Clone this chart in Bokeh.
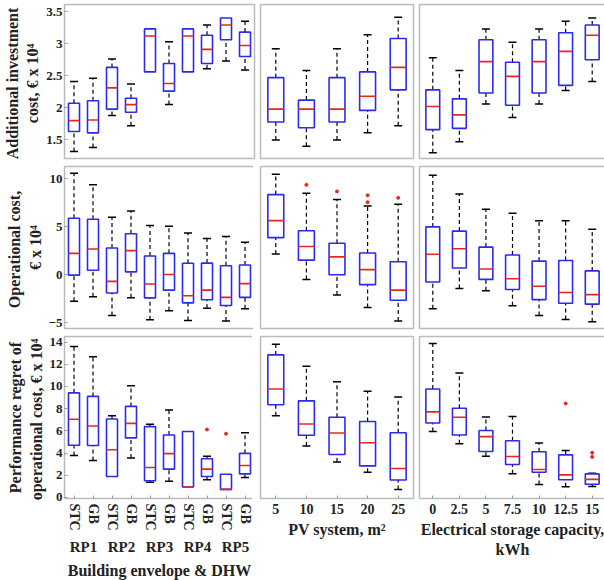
from bokeh.plotting import figure
from bokeh.layouts import gridplot
from bokeh.models import FactorRange, ColumnDataSource, Range1d, FixedTicker
from bokeh.transform import dodge
from bokeh.embed import file_html
from bokeh.resources import INLINE

N = None
rp_factors = [(g, s) for g in ["RP1", "RP2", "RP3", "RP4", "RP5"] for s in ["STC", "GB"]]
pv_factors = ["5", "10", "15", "20", "25"]
st_factors = ["0", "2.5", "5", "7.5", "10", "12.5", "15"]

# [low whisker, q1, median, q3, high whisker]
inv_rp = [[1.32, 1.63, 1.80, 2.07, 2.41], [1.38, 1.61, 1.81, 2.11, 2.46], [1.88, 1.98, 2.31, 2.63, 2.76],
          [1.72, 1.93, 2.05, 2.15, 2.37], [N, 2.56, 3.12, 3.23, N], [2.05, 2.26, 2.38, 2.69, 3.03],
          [N, 2.56, 3.12, 3.23, N], [2.61, 2.69, 2.91, 3.13, 3.29], [2.73, 3.06, 3.29, 3.40, N],
          [2.59, 2.80, 2.97, 3.18, 3.35]]
inv_pv = [[1.50, 1.78, 1.98, 2.47, 2.92], [1.40, 1.69, 1.98, 2.12, 2.58], [1.50, 1.78, 1.98, 2.47, 2.92],
          [1.61, 1.96, 2.18, 2.56, 3.14], [1.72, 2.28, 2.63, 3.08, 3.41]]
inv_st = [[1.30, 1.66, 2.02, 2.28, 2.78], [1.47, 1.68, 1.89, 2.14, 2.58], [2.06, 2.23, 2.72, 3.06, 3.23],
          [1.85, 2.04, 2.49, 2.71, 3.02], [2.06, 2.23, 2.72, 3.06, 3.23], [2.27, 2.35, 2.88, 3.17, 3.35],
          [2.41, 2.75, 3.13, 3.29, 3.40]]
op_rp = [[-2.76, -0.03, 2.24, 5.9, 10.6], [-2.3, 0.48, 2.7, 5.8, 9.4], [-4.25, -1.9, -0.68, 2.8, 6.0],
         [-2.4, 0.31, 2.52, 4.29, 6.67], [-4.7, -2.4, -0.95, 1.97, 5.14], [-3.74, -1.6, 0.03, 2.24, 5.07],
         [-4.76, -2.93, -2.18, 1.2, 4.35], [-3.5, -2.6, -1.6, 1.22, 3.78], [-4.83, -3.2, -2.35, 0.95, 4.0],
         [-3.54, -2.35, -0.92, 1.02, 3.4]]
op_pv = [[2.18, 3.88, 5.65, 8.37, 10.48], [-0.48, 1.53, 2.96, 4.59, 8.5], [-2.1, 0.0, 1.87, 3.3, 7.86],
         [-3.4, -1.02, 0.54, 2.28, 7.18], [-4.83, -2.65, -1.6, 1.36, 7.35]]
op_st = [[-3.54, -0.75, 2.14, 5.0, 10.4], [-1.43, 0.71, 2.72, 4.56, 8.44], [-1.67, -0.48, 0.61, 2.89, 6.84],
         [-3.23, -1.53, -0.41, 2.07, 6.43], [-4.25, -2.59, -1.19, 1.43, 5.65], [-4.66, -2.96, -1.84, 1.5, 5.65],
         [-4.9, -3.06, -2.07, 0.41, 4.76]]
op_pv_out_x = ["10", "15", "20", "20", "25"]
op_pv_out_y = [9.39, 8.7, 8.3, 7.58, 8.03]
pr_rp = [[3.77, 4.7, 7.04, 9.42, 13.6], [3.33, 4.67, 6.43, 9.1, 12.67], [N, 1.88, 4.3, 7.07, 7.35],
         [3.54, 5.36, 6.67, 8.2, 10.06], [1.36, 1.5, 2.7, 6.38, 6.6], [1.45, 2.55, 3.94, 5.62, 7.88],
         [N, 0.93, 0.93, 5.94, N], [1.59, 1.88, 2.55, 3.48, 3.71], [N, 0.72, 0.72, 2.09, N],
         [1.8, 2.12, 2.87, 3.97, 5.83]]
pr_rp_out_x = [("RP4", "GB"), ("RP5", "STC")]
pr_rp_out_y = [6.12, 5.74]
pr_pv = [[7.36, 8.35, 9.77, 12.84, 13.8], [4.64, 5.6, 6.61, 8.7, 11.83], [3.19, 3.86, 5.8, 7.22, 10.43],
         [2.26, 2.84, 4.93, 6.84, 9.57], [0.72, 1.57, 2.61, 5.83, 9.04]]
pr_st = [[5.94, 6.7, 7.71, 9.77, 13.86], [4.84, 5.62, 7.22, 8.03, 11.22], [3.71, 4.14, 5.48, 6.03, 7.25],
         [2.14, 2.96, 3.68, 5.1, 7.3], [1.16, 2.26, 2.52, 4.12, 4.9], [0.96, 1.59, 2.03, 3.83, 4.23],
         [0.99, 1.19, 1.62, 2.12, 2.17]]
pr_st_out_x = ["12.5", "15", "15"]
pr_st_out_y = [8.46, 4.03, 3.65]

FONT = "Liberation Serif"
BLUE = "#2b2bf0"
TXT = "#222222"


def panel(factors, data, yr, ticks, fw, fh, left, bottom, ylabel=None, xlabel=None, showx=False,
          out_x=None, out_y=None, bw=0.52, nested=False):
    xr = FactorRange(*factors, factor_padding=0, group_padding=0, range_padding=0.0)
    p = figure(x_range=xr, y_range=Range1d(*yr), frame_width=fw, frame_height=fh,
               output_backend="svg", toolbar_location=None, min_border_left=left,
               min_border_right=2, min_border_top=4, min_border_bottom=bottom)
    src = ColumnDataSource(dict(x=factors, lo=[float('nan') if d[0] is None else d[0] for d in data],
                                q1=[d[1] for d in data], med=[d[2] for d in data], q3=[d[3] for d in data],
                                hi=[float('nan') if d[4] is None else d[4] for d in data]))
    p.segment(x0="x", y0="q3", x1="x", y1="hi", source=src, line_color="black", line_dash="4 3", line_width=1.2)
    p.segment(x0="x", y0="lo", x1="x", y1="q1", source=src, line_color="black", line_dash="4 3", line_width=1.2)
    p.dash(x="x", y="hi", source=src, size=8, line_color="black", line_width=1.5)
    p.dash(x="x", y="lo", source=src, size=8, line_color="black", line_width=1.5)
    p.vbar(x="x", top="q3", bottom="q1", width=bw, source=src, fill_color=None, line_color=BLUE, line_width=1.6)
    p.segment(x0=dodge("x", -bw / 2, range=xr), y0="med", x1=dodge("x", bw / 2, range=xr), y1="med",
              source=src, line_color="#e8261e", line_width=1.6)
    if out_x:
        p.scatter(x=out_x, y=out_y, marker="circle", size=3, color="#e8261e")
    p.xgrid.visible = False
    p.ygrid.visible = False
    p.outline_line_color = "#bbbbbb"
    p.outline_line_width = 1.5
    for ax in (p.xaxis, p.yaxis):
        ax.axis_line_color = None
        ax.major_tick_in = 3
        ax.major_tick_out = 0
        ax.minor_tick_line_color = None
        ax.major_tick_line_color = "#999999"
        ax.major_label_text_font = FONT
        ax.major_label_text_font_style = "bold"
        ax.major_label_text_font_size = "14px"
        ax.major_label_text_color = TXT
        ax.axis_label_text_font = FONT
        ax.axis_label_text_font_style = "bold"
        ax.axis_label_text_font_size = "16px"
        ax.axis_label_text_color = TXT
    p.yaxis.ticker = FixedTicker(ticks=ticks)
    p.yaxis.major_label_standoff = 2
    if ylabel:
        p.yaxis.axis_label = ylabel
        p.yaxis.axis_label_standoff = 2
        p.yaxis.major_label_text_font_size = "13px"
    else:
        p.yaxis.visible = False
    if showx:
        p.xaxis.axis_label = xlabel
        p.xaxis.axis_label_standoff = 4
        if nested:
            p.xaxis.major_label_orientation = "vertical"
            p.xaxis.group_text_font = FONT
            p.xaxis.group_text_font_style = "bold"
            p.xaxis.group_text_font_size = "15px"
            p.xaxis.group_text_color = TXT
            p.xaxis.separator_line_alpha = 0
    else:
        p.xaxis.visible = False
    return p


FW = [190, 153, 186]
H = [154, 162, 162]
L = [50, 4, 4]
yr = [(1.21, 3.61), (-5.6, 11.3), (-0.1, 14.5)]
tk = [[1.5, 2, 2.5, 3, 3.5], [-5, 0, 5, 10], [0, 2, 4, 6, 8, 10, 12, 14]]
yl = ["Additional  investment\ncost,  € x 10⁴", "Operational  cost,\n€ x 10⁴",
      "Performance regret of\noperational cost,  € x 10⁴"]
rp = [inv_rp, op_rp, pr_rp]
pv = [inv_pv, op_pv, pr_pv]
st = [inv_st, op_st, pr_st]
rows = []
for i in range(3):
    last = i == 2
    bot = 68 if last else 4
    r = []
    r.append(panel(rp_factors, rp[i], yr[i], tk[i], FW[0], H[i], L[0], bot, ylabel=yl[i],
                   xlabel="Building envelope & DHW", showx=last, nested=True, bw=0.58,
                   out_x=pr_rp_out_x if last else None, out_y=pr_rp_out_y if last else None))
    r.append(panel(pv_factors, pv[i], yr[i], tk[i], FW[1], H[i], L[1], bot, xlabel="PV system, m²",
                   showx=last, out_x=op_pv_out_x if i == 1 else None, out_y=op_pv_out_y if i == 1 else None))
    r.append(panel(st_factors, st[i], yr[i], tk[i], FW[2], H[i], L[2], bot,
                   xlabel="Electrical storage capacity,\nkWh", showx=last,
                   out_x=pr_st_out_x if last else None, out_y=pr_st_out_y if last else None))
    rows.append(r)

g = gridplot(rows, toolbar_location=None)
open("out.html", "w").write(file_html(g, INLINE))
